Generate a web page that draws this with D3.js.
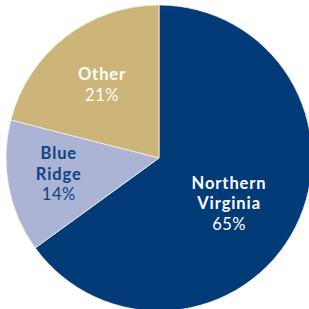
<!DOCTYPE html>
<html>
<head>
<meta charset="utf-8">
<script src="https://cdn.jsdelivr.net/npm/d3@7"></script>
<style>
  html, body { margin: 0; padding: 0; background: #fff; }
  svg { display: block; }
</style>
</head>
<body>
<div id="pie"></div>
<script>
// Data
const regions = ["Northern Virginia", "Blue Ridge", "Other"];
const shares = [65, 14, 21];
const nameLines = [["Northern", "Virginia"], ["Blue", "Ridge"], ["Other"]];
const colors = ["#023b78", "#abb4d4", "#cdb478"];
const textColors = ["#ffffff", "#0f4382", "#ffffff"];

// Set dimensions
const width = 309, height = 309;
const cx = 159, cy = 158, radius = 153;

// label placement (radius along slice middle, plus small nudges)
const labelRadius = [82, 101, 93];
const labelNudgeX = [-3, -1, 0];
const labelNudgeY = [8, -3, 0];

const svg = d3.select("#pie")
  .append("svg")
  .attr("width", width)
  .attr("height", height)
  .append("g")
  .attr("transform", `translate(${cx},${cy})`);

const slices = d3.pie().sort(null).value(d => d)(shares);

const arc = d3.arc().innerRadius(0).outerRadius(radius);

svg.selectAll("path.slice")
  .data(slices)
  .join("path")
  .attr("class", "slice")
  .attr("d", arc)
  .attr("fill", (d, i) => colors[i])
  .attr("stroke", "#f4f1ea")
  .attr("stroke-width", 0.8);

// Labels
const lineH = 20.5;
const labels = svg.selectAll("text.label")
  .data(slices)
  .join("text")
  .attr("class", "label")
  .attr("text-anchor", "middle")
  .attr("font-family", "Lato, 'Open Sans', sans-serif")
  .attr("font-size", 16.5)
  .attr("fill", (d, i) => textColors[i])
  .attr("transform", (d, i) => {
    const [x, y] = d3.arc().innerRadius(labelRadius[i]).outerRadius(labelRadius[i]).centroid(d);
    return `translate(${x + labelNudgeX[i]},${y + labelNudgeY[i]})`;
  });

labels.each(function(d, i) {
  const lines = nameLines[i].concat([shares[i] + "%"]);
  const n = lines.length;
  const t = d3.select(this);
  lines.forEach((s, j) => {
    t.append("tspan")
      .attr("x", 0)
      .attr("y", (j - (n - 1) / 2) * lineH + 6)
      .attr("font-weight", j < n - 1 ? 700 : 400)
      .attr("letter-spacing", j < n - 1 ? 0.9 : 0.5)
      .text(s);
  });
});
</script>
</body>
</html>
